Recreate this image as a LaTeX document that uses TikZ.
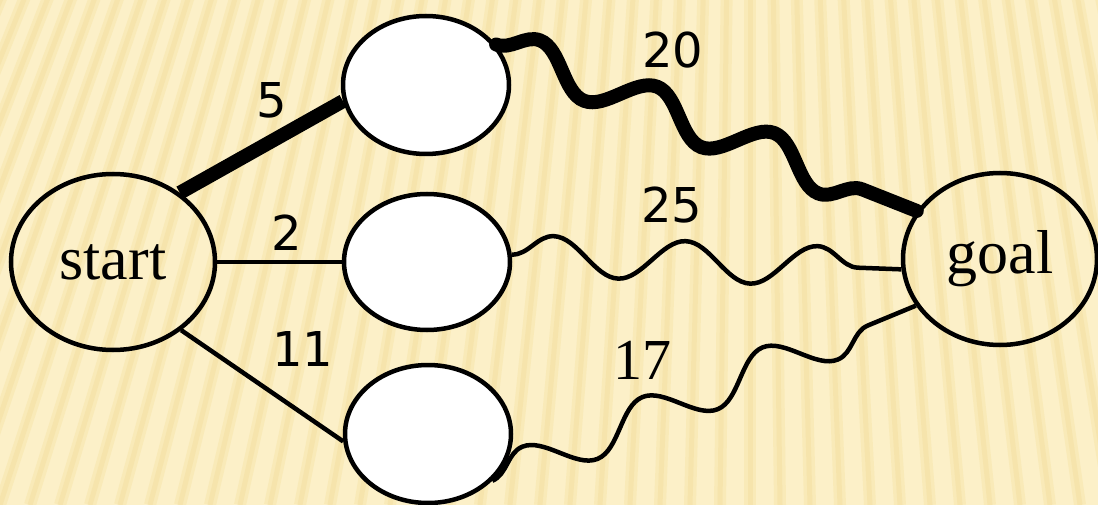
\documentclass[tikz,border=0pt]{standalone}
\usepackage{fontspec}
\setmainfont{Liberation Serif}
\newfontfamily\numfont{DejaVu Sans}
\usetikzlibrary{shapes.geometric,decorations.pathmorphing}
\definecolor{bgcol}{RGB}{252,240,200}
\definecolor{stripecol}{RGB}{249,234,184}
\definecolor{stripecore}{RGB}{246,228,172}
\begin{document}
\begin{tikzpicture}[x=1pt,y=-1pt,
  statebox/.style={ellipse, draw=black, line width=4.5pt, inner sep=0pt},
  blankbox/.style={statebox, fill=white, minimum width=166pt, minimum height=138pt},
  endbox/.style={statebox, font=\fontsize{62}{62}\selectfont},
  numlbl/.style={font=\fontsize{48}{48}\selectfont\numfont, inner sep=0pt},
  seriflbl/.style={font=\fontsize{58}{58}\selectfont, inner sep=0pt},
  edgethin/.style={draw=black, line width=4.5pt},
  edgethick/.style={draw=black, line width=14pt},
  wavy/.style={decorate, decoration={snake, segment length=#1, amplitude=20pt}},
  stripe/.style={draw=stripecol, line width=12pt},
  stripein/.style={draw=stripecore, line width=5pt}
]
\useasboundingbox (0,0) rectangle (1098,505);
\fill[bgcol] (0,0) rectangle (1098,505);
\begin{scope}
  \clip (0,0) rectangle (1098,505);
  \foreach \xb in {-600,-570,...,1800} {
    \draw[stripe] (750,-1800) -- (\xb,505);
    \draw[stripein] (750,-1800) -- (\xb,505);
  }
\end{scope}

\node[endbox, minimum width=204pt, minimum height=176pt] (start) at (113,262) {start};
\node[blankbox] (top) at (426,85) {};
\node[blankbox, minimum height=136pt] (mid) at (427,262) {};
\node[blankbox] (bot) at (428,434) {};
\node[endbox, minimum width=194pt, minimum height=172pt] (goal) at (1000,259) {goal};

\draw[edgethick] (start.46) -- (top.191);
\draw[edgethin] (start.east) -- (mid.west);
\draw[edgethin] (start.-45) -- (bot.185);

\draw[edgethick, line cap=round, wavy=126pt] (top.30) -- (goal.150);
\draw[edgethin, wavy=132pt] (mid.5) -- (goal.186);
\draw[edgethin, wavy=130pt] (bot.-36) -- (goal.209);

\node[numlbl] (l5) at (272,100) {5};
\node[numlbl] (l2) at (287,233) {2};
\node[numlbl] (l11) at (303,349) {11};
\node[numlbl] (l20) at (673,50) {20};
\node[numlbl] (l25) at (672,205) {25};
\node[seriflbl] (l17) at (642,360) {17};
\end{tikzpicture}
\end{document}
